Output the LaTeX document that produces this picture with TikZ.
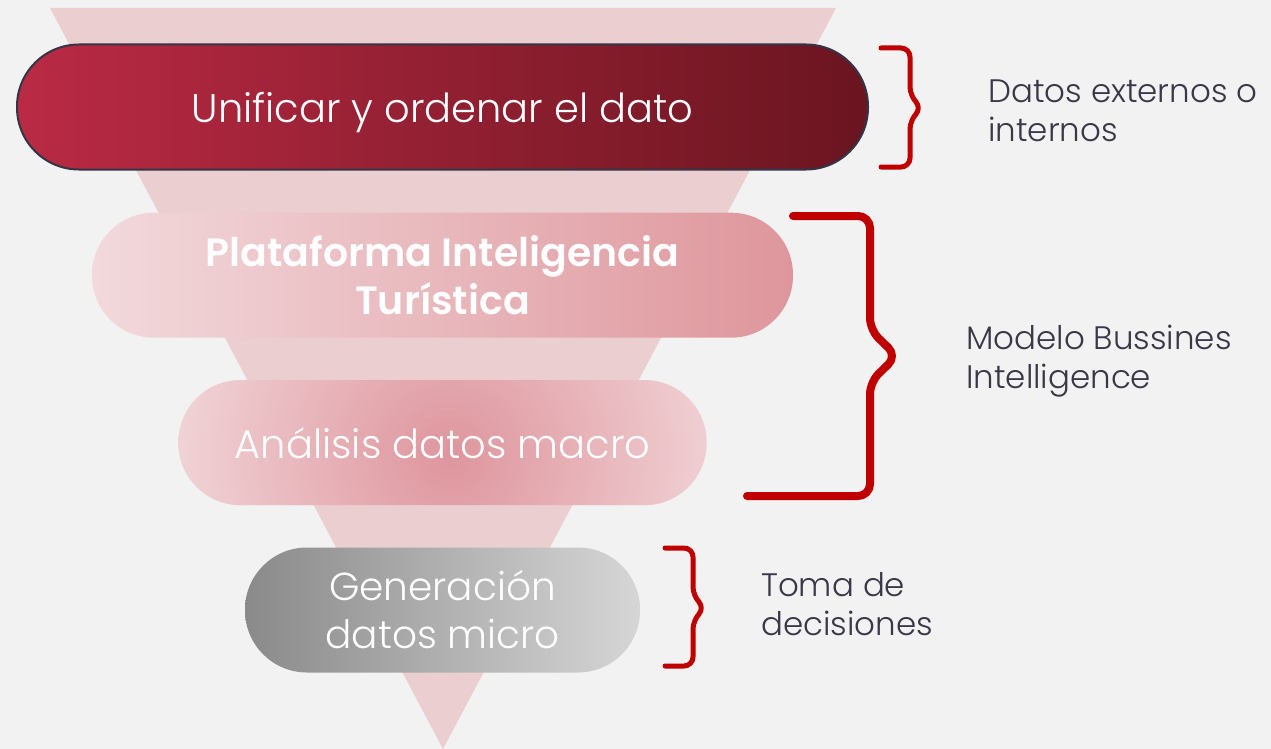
\documentclass[tikz,border=0pt]{standalone}
\usepackage{fontspec}
\setmainfont{Poppins Light}
\newfontfamily\popbold{Poppins SemiBold}
\usetikzlibrary{positioning}
\definecolor{backgray}{HTML}{F2F2F2}
\definecolor{funnelpink}{HTML}{EBCFD0}
\definecolor{wineleft}{HTML}{BA2A44}
\definecolor{wineright}{HTML}{6A1520}
\definecolor{wineedge}{HTML}{343447}
\definecolor{roseleft}{HTML}{F2D9DC}
\definecolor{roseright}{HTML}{DE969C}
\definecolor{glowin}{HTML}{DE959D}
\definecolor{glowout}{HTML}{F1D6D9}
\definecolor{grayleft}{HTML}{8A8A8A}
\definecolor{grayright}{HTML}{D6D6D6}
\definecolor{bracered}{HTML}{C00000}
\definecolor{notegray}{HTML}{383849}
\tikzset{pill/.style = {rounded corners=62pt, minimum width=#1, minimum height=125pt, text=white, align=center, inner sep=0pt}}
\tikzset{glow/.style = {fill=glowout, path picture={\shade [inner color=glowin, outer color=glowout] (path picture bounding box.center) ++(8pt,-12pt) circle (290pt);}}}
\tikzset{brace/.style = {draw=bracered, line width=5pt, line cap=round, line join=round, rounded corners=9pt}}
\tikzset{note/.style = {text=notegray, align=left, anchor=north west, inner sep=0pt, font=\fontsize{32.5}{39}\selectfont}}

\begin{document}
\begin{tikzpicture}[x=1pt, y=-1pt, node distance=42pt]
  \useasboundingbox [fill=backgray] (0,0) rectangle (1271,749);
  \fill [funnelpink] (50,8) -- (836,8) -- (443,749) -- cycle;

  \node [pill=851pt, draw=wineedge, line width=2pt, left color=wineleft, right color=wineright,
         text depth=0pt, font=\fontsize{40}{46}\selectfont] (unify) at (442.5,107) {Unificar y ordenar el dato};
  \node [pill=701pt, left color=roseleft, right color=roseright,
         font=\popbold\fontsize{39.5}{48}\selectfont, below=of unify] (platform) {Plataforma Inteligencia\\Turística};
  \node [pill=528pt, glow, text depth=0pt,
         font=\fontsize{40}{48}\selectfont, below=of platform] (macro) {Análisis datos macro};
  \node [pill=395pt, left color=grayleft, right color=grayright,
         font=\fontsize{39}{48}\selectfont, below=of macro] (micro) {Generación\\datos micro};

  \draw [brace] (881,48) -- (910,48) -- (910,96) -- (922,108) -- (910,120) -- (910,167) -- (881,167);
  \draw [brace, line width=8pt, rounded corners=12pt] (793,216) -- (870,216) -- (870,330) -- (897,356) -- (870,382) -- (870,496) -- (747,496);
  \draw [brace] (665,548) -- (693,548) -- (693,596) -- (705,608) -- (693,620) -- (693,666) -- (665,666);

  \node [note] (source) at (988,80) {Datos externos o\\internos};
  \node [note] (model) at (966,325) {Modelo Bussines\\Intelligence};
  \node [note] (decide) at (761,572) {Toma de\\decisiones};
\end{tikzpicture}
\end{document}
